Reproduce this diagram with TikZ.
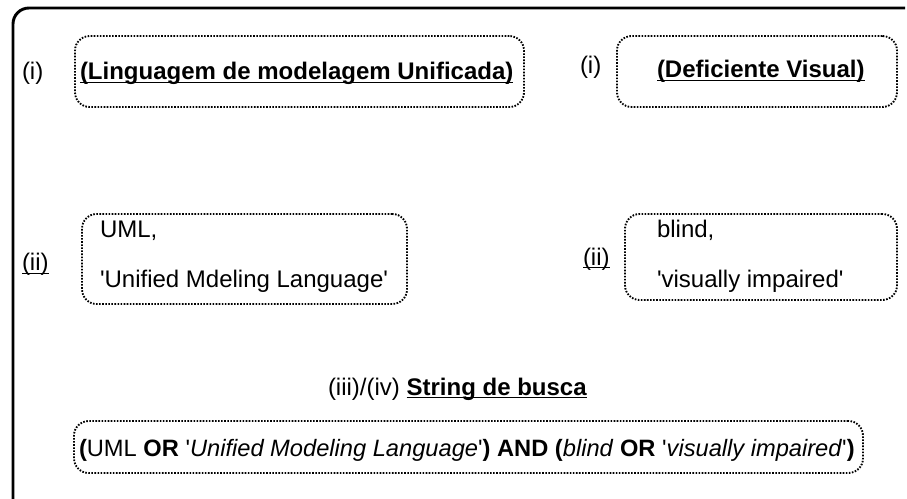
\documentclass[tikz,border=0pt]{standalone}
\usepackage{fontspec}
\setmainfont{Liberation Sans}[Ligatures=TeXOff]
\usetikzlibrary{fit}
\newcommand\myul[1]{\setbox0\hbox{#1}\rlap{\rule[-2.6pt]{\wd0}{1.1pt}}\box0}
\begin{document}
\begin{tikzpicture}[x=0.75pt,y=-0.75pt,
  txt/.style={anchor=base west,inner sep=0pt,outer sep=0pt,font=\fontsize{18pt}{21pt}\selectfont},
  dotbox/.style={draw,line width=1.4pt,dash pattern=on 1.2pt off 1.1pt,rounded corners=11pt,inner sep=0pt},
  frame/.style={line width=2.2pt,rounded corners=12pt}]
\useasboundingbox (0,0) rectangle (907,499);
\begin{scope}
\clip (0,0) rectangle (907,499);
\draw[frame] (905,8) -- (13,8) -- (13,520) -- (40,520);
\end{scope}
% boxes
\node[dotbox,fit={(75,36) (524,107)}] (b1) {};
\node[dotbox,fit={(617,36) (897,107)}] (b2) {};
\node[dotbox,fit={(82,214) (407,304)}] (b3) {};
\node[dotbox,fit={(625,214) (897,300)}] (b4) {};
\node[dotbox,fit={(74,421) (863,473)}] (b5) {};
% row 1
\node[txt] (i1) at (22,80) {(i)};
\node[txt] (t1) at (80,80) {\myul{\bfseries(Linguagem de modelagem Unificada)}};
\node[txt] (i2) at (580,74) {(i)};
\node[txt] (t2) at (657,78) {\myul{\bfseries(Deficiente Visual)}};
% row 2
\node[txt] (ii1) at (22,271) {\myul{(ii)}};
\node[txt] (u1) at (100,238) {UML,};
\node[txt] (u2) at (100,287) {'Unified Mdeling Language'};
\node[txt] (ii2) at (583,265) {\myul{(ii)}};
\node[txt] (v1) at (657,238) {blind,};
\node[txt] (v2) at (657,287) {'visually impaired'};
% row 3
\node[txt] (s) at (328,395) {(iii)/(iv) \myul{\bfseries String de busca}};
\node[txt,font=\fontsize{17.75pt}{21pt}\selectfont] (q) at (79,456) {\textbf{(}UML \textbf{OR} '\textit{Unified Modeling Language}'\textbf{) AND (}\textit{blind} \textbf{OR} '\textit{visually impaired}'\textbf{)}};
\end{tikzpicture}
\end{document}
